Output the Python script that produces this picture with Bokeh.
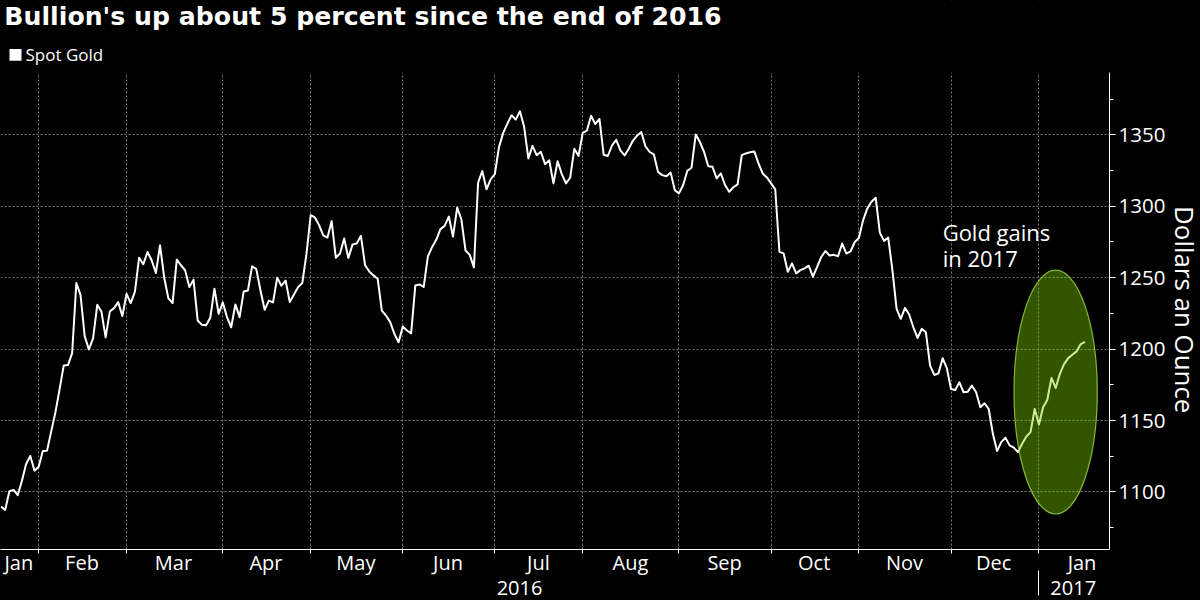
import math

from bokeh.embed import file_html
from bokeh.models import (BoxAnnotation, ColumnDataSource, FixedTicker, Grid, Label,
                          LinearAxis, Range1d)
from bokeh.plotting import figure
from bokeh.resources import INLINE

TITLE = "Bullion's up about 5 percent since the end of 2016"
SERIES = "Spot Gold"
Y_TITLE = "Dollars an Ounce"

gold_jan_mar = [1089.7, 1087.4, 1100.5, 1101.4, 1097.7, 1107.9, 1119.6, 1125.2, 1114.9, 1117.7,
                1128.7, 1128.9, 1142.4, 1155.7, 1172.0, 1188.6, 1188.8, 1197.2, 1246.2, 1238.0,
                1209.0, 1199.8, 1207.5, 1231.0, 1226.3, 1208.2, 1226.3, 1228.7, 1232.9, 1223.1,
                1238.7, 1232.2, 1240.3, 1264.0, 1259.4, 1268.0, 1262.2, 1253.3, 1272.7, 1250.0,
                1235.5, 1232.2, 1262.6, 1258.7, 1255.2, 1243.4, 1248.6, 1220.0, 1217.0, 1216.7,
                1221.9, 1242.3, 1224.7]
gold_apr_jun = [1232.7, 1222.4, 1215.3, 1231.3, 1222.4, 1240.4, 1241.1, 1258.0, 1256.0, 1241.0,
                1227.5, 1234.0, 1232.7, 1250.0, 1244.4, 1248.0, 1232.9, 1238.3, 1243.4, 1246.3,
                1266.9, 1293.8, 1292.2, 1286.8, 1279.7, 1278.1, 1289.6, 1264.0, 1266.9, 1277.4,
                1263.8, 1273.2, 1273.9, 1279.3, 1258.7, 1254.4, 1251.6, 1249.3, 1227.0, 1223.5,
                1218.9, 1210.7, 1204.8, 1215.8, 1213.0, 1211.0, 1244.6, 1245.3, 1243.5, 1264.9,
                1271.4, 1276.5, 1284.0, 1286.3, 1292.8, 1278.8, 1299.0, 1290.9, 1269.0, 1266.0,
                1257.2, 1316.5, 1324.7, 1311.9, 1318.8]
gold_jul_sep = [1322.6, 1341.6, 1351.4, 1357.9, 1363.7, 1360.7, 1366.5, 1355.6, 1333.5, 1342.3,
                1335.8, 1338.1, 1329.5, 1332.2, 1316.0, 1331.5, 1322.5, 1316.0, 1320.1, 1340.3,
                1335.2, 1351.4, 1353.0, 1363.4, 1357.6, 1361.1, 1336.1, 1335.2, 1342.6, 1346.5,
                1339.1, 1335.6, 1340.3, 1346.0, 1349.5, 1351.9, 1341.9, 1338.0, 1336.3, 1324.0,
                1321.8, 1321.0, 1323.6, 1311.3, 1309.0, 1314.9, 1324.9, 1327.0, 1350.2, 1345.0,
                1338.0, 1328.0, 1327.7, 1319.5, 1323.0, 1314.9, 1310.2, 1313.3, 1315.3, 1335.8,
                1337.0, 1337.9, 1338.4, 1330.0, 1323.0, 1320.2]
gold_oct_dec = [1316.0, 1311.9, 1268.1, 1267.0, 1254.2, 1260.0, 1253.0, 1255.3, 1256.5, 1258.4,
                1250.7, 1257.5, 1264.5, 1268.7, 1265.5, 1266.0, 1265.0, 1273.9, 1266.9, 1268.5,
                1275.0, 1277.9, 1290.3, 1298.5, 1303.2, 1306.0, 1281.4, 1275.8, 1278.1, 1255.2,
                1228.2, 1221.2, 1228.9, 1224.2, 1215.3, 1207.8, 1214.2, 1211.8, 1188.4, 1181.9,
                1183.0, 1193.6, 1186.7, 1172.1, 1171.4, 1176.7, 1169.8, 1170.2, 1174.4, 1169.8,
                1159.3, 1162.1, 1158.1, 1140.7, 1128.6, 1134.9, 1137.9, 1132.6, 1131.0, 1127.9]
gold_jan17 = [1133.7, 1138.8, 1141.9, 1158.1, 1147.2, 1159.3, 1164.4, 1179.8, 1172.8, 1182.6,
              1189.5, 1193.7, 1196.0, 1198.4, 1203.5, 1205.0]
gold = gold_jan_mar + gold_apr_jun + gold_jul_sep + gold_oct_dec + gold_jan17
days = list(range(len(gold)))

month_starts = [9, 30, 53, 74, 96, 118, 139, 162, 184, 205, 227, 248]
month_label_pos = [4.25, 19.35, 41.2, 63.3, 84.8, 106.8, 128.4, 150.4, 172.9, 194.3, 215.9, 237.2, 258.3]
month_labels = ["Jan", "Feb", "Mar", "Apr", "May", "Jun", "Jul", "Aug", "Sep", "Oct", "Nov", "Dec", "Jan"]
year_label_pos = [123.9, 256.2]
year_labels = ["2016", "2017"]
year_start = [248]
y_ticks = [1100, 1150, 1200, 1250, 1300, 1350]
y_minor = [1075, 1125, 1175, 1225, 1275, 1325, 1375]

FONT = "Open Sans"
p = figure(width=1200, height=600, frame_width=1109, frame_height=549,
           output_backend="svg", toolbar_location=None,
           x_range=Range1d(-0.12, 264.87), y_range=Range1d(1059.7, 1444.07),
           x_axis_location=None, y_axis_location=None,
           background_fill_color=None, border_fill_color=None,
           outline_line_color=None, min_border_left=0, min_border_right=91,
           min_border_top=0, min_border_bottom=51,
           styles={"background-color": "black"})
p.center = []

xaxis = LinearAxis(ticker=FixedTicker(ticks=month_label_pos, minor_ticks=month_starts),
                   major_label_overrides=dict(zip(month_label_pos, month_labels)),
                   axis_line_color="white", axis_line_width=1,
                   major_tick_line_color=None, major_tick_out=0, major_tick_in=0,
                   minor_tick_line_color="white", minor_tick_out=4, minor_tick_in=0,
                   major_label_text_color="white", major_label_text_font=FONT,
                   major_label_text_font_size="20px", major_label_standoff=-5)
p.add_layout(xaxis, "below")
yearaxis = LinearAxis(ticker=FixedTicker(ticks=year_label_pos, minor_ticks=year_start),
                      major_label_overrides=dict(zip(year_label_pos, year_labels)),
                      axis_line_color=None,
                      major_tick_line_color=None, major_tick_out=0, major_tick_in=0,
                      minor_tick_line_color="white", minor_tick_out=17, minor_tick_in=8,
                      major_label_text_color="white", major_label_text_font=FONT,
                      major_label_text_font_size="20px", major_label_standoff=-15)
p.add_layout(yearaxis, "below")
yaxis = LinearAxis(ticker=FixedTicker(ticks=y_ticks, minor_ticks=y_minor),
                   bounds=(1059.7, 1393.4),
                   axis_line_color="white", axis_line_width=1,
                   major_tick_line_color="white", major_tick_out=6, major_tick_in=0,
                   minor_tick_line_color="white", minor_tick_out=4, minor_tick_in=0,
                   major_label_text_color="white", major_label_text_font=FONT,
                   major_label_text_font_size="20.5px", major_label_standoff=3)
p.add_layout(yaxis, "right")
p.add_layout(Label(x=282.8, y=1227.6, text=Y_TITLE, angle=-math.pi / 2, text_color="white",
                   text_font=FONT, text_font_size="25.9px", text_align="center",
                   text_baseline="middle"), "right")

GRID = dict(grid_line_color="#7a7a7a", grid_line_width=1, grid_line_dash=[2, 2])
p.add_layout(Grid(dimension=0, ticker=FixedTicker(ticks=month_starts), **GRID))
p.add_layout(Grid(dimension=1, ticker=FixedTicker(ticks=y_ticks), **GRID))

src = ColumnDataSource(dict(day=days, gold=gold))
p.line("day", "gold", source=src, line_color="white", line_width=2, line_join="round")

p.ellipse(x=[252], y=[1169.9], width=[19.9], height=[170.9],
          fill_color="#80d400", fill_alpha=0.4, line_color="#9ed13c", line_alpha=0.85, line_width=1.2)

# header band: masks the month gridlines above the plot area
p.add_layout(BoxAnnotation(bottom=1393.4, fill_color="black", fill_alpha=1, line_color=None))
p.add_layout(Label(x=0.8, y=1433, text=TITLE, text_color="white", text_font="DejaVu Sans",
                   text_font_size="25.2px", text_font_style="bold", text_baseline="middle"))
p.add_layout(BoxAnnotation(left=2.03, right=4.9, bottom=1401.8, top=1410.2,
                           fill_color="white", fill_alpha=1, line_color=None))
p.add_layout(Label(x=5.85, y=1406.6, text=SERIES, text_color="white", text_font=FONT,
                   text_font_size="17px", text_baseline="middle"))

for txt, yv in (("Gold gains", 1282), ("in 2017", 1263.5)):
    p.add_layout(Label(x=225, y=yv, text=txt, text_color="white", text_font=FONT,
                       text_font_size="22px", text_baseline="alphabetic"))

open("out.html", "w").write(file_html(p, INLINE))
